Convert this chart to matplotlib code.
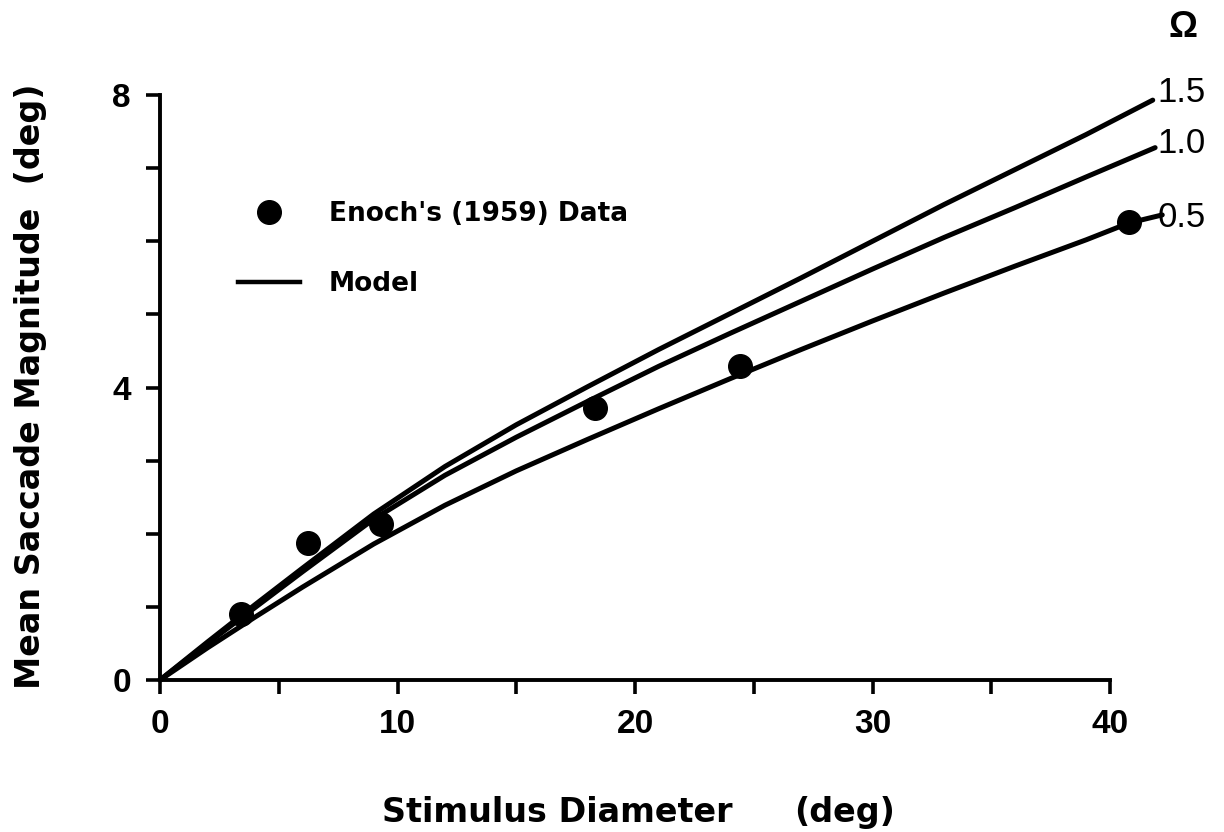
import matplotlib
matplotlib.use("Agg")
import matplotlib.pyplot as plt
from matplotlib.lines import Line2D

# Stimulus diameter (deg) vs. mean saccade magnitude (deg)
enoch_x = [3.4, 6.25, 9.3, 18.3, 24.4, 40.8]
enoch_y = [0.90, 1.87, 2.13, 3.72, 4.30, 6.26]

# Model curves for three values of Omega
model_x_15 = [0, 2, 4, 6, 9, 12, 15, 18, 21, 24, 27, 30, 33, 36, 39, 41.8]
model_y_15 = [0, 0.52, 1.03, 1.53, 2.27, 2.92, 3.49, 4.01, 4.52, 5.01, 5.50,
              6.00, 6.50, 6.98, 7.46, 7.93]

model_x_10 = [0, 2, 4, 6, 9, 12, 15, 18, 21, 24, 27, 30, 33, 36, 39, 41.9]
model_y_10 = [0, 0.50, 0.99, 1.48, 2.20, 2.80, 3.32, 3.81, 4.29, 4.74, 5.18,
              5.62, 6.05, 6.46, 6.88, 7.28]

model_x_05 = [0, 2, 4, 6, 9, 12, 15, 18, 21, 24, 27, 30, 33, 36, 39, 40.8, 42.2]
model_y_05 = [0, 0.44, 0.86, 1.27, 1.86, 2.39, 2.86, 3.29, 3.71, 4.12, 4.52,
              4.91, 5.29, 5.66, 6.02, 6.25, 6.36]

curve_labels = ["1.5", "1.0", "0.5"]
curve_label_y = [7.90, 7.21, 6.19]

x_major = [0, 10, 20, 30, 40]
x_minor = [5, 15, 25, 35]
y_major = [0, 4, 8]
y_minor = [1, 2, 3, 5, 6, 7]

W, H = 1224, 832
fig = plt.figure(figsize=(W / 100, H / 100), dpi=100)
ax = fig.add_axes([160 / W, 152 / H, 950 / W, 585 / H])
ax.set_xlim(0, 40)
ax.set_ylim(0, 8)

for side in ("top", "right"):
    ax.spines[side].set_visible(False)
for side in ("left", "bottom"):
    ax.spines[side].set_linewidth(2.8)
    ax.spines[side].set_capstyle("projecting")

ax.set_xticks(x_major)
ax.set_xticks(x_minor, minor=True)
ax.set_yticks(y_major)
ax.set_yticks(y_minor, minor=True)
ax.tick_params(which="both", direction="out", length=10, width=2.6, color="black")
ax.tick_params(which="major", pad=11, labelsize=24)
for lab in ax.get_xticklabels() + ax.get_yticklabels():
    lab.set_fontfamily("Liberation Sans")
    lab.set_fontweight("bold")

line_kw = dict(color="black", lw=3.6, solid_capstyle="round",
               solid_joinstyle="round", clip_on=False, zorder=3)
ax.plot(model_x_15, model_y_15, **line_kw)
ax.plot(model_x_10, model_y_10, **line_kw)
ax.plot(model_x_05, model_y_05, **line_kw)

ax.plot(enoch_x, enoch_y, "o", color="black", ms=17, clip_on=False, zorder=4)

# curve labels and the Omega heading
for lab, yy in zip(curve_labels, curve_label_y):
    ax.text(42.0, yy, lab, ha="left", va="baseline", fontsize=25,
            family="Liberation Sans", clip_on=False)
ax.text(43.07, 8.79, "Ω", ha="center", va="baseline", fontsize=26,
        family="Liberation Sans", fontweight="bold", clip_on=False)

# legend
handles = [
    Line2D([], [], marker="o", ls="none", color="black", ms=17),
    Line2D([], [], color="black", lw=3.2),
]
ax.legend(handles, ["Enoch's (1959) Data", "Model"],
          loc="upper left", bbox_to_anchor=(238 / W, 1 - 201 / H),
          bbox_transform=fig.transFigure, frameon=False,
          borderpad=0, borderaxespad=0, handlelength=2.35,
          handletextpad=1.1, labelspacing=1.68, numpoints=1,
          prop=dict(family="DejaVu Sans", weight="bold", size=19))

# axis titles
title_kw = dict(family="DejaVu Sans", weight="bold", fontsize=24)
fig.text(732 / W, 10 / H, "Stimulus Diameter", ha="right", va="baseline", **title_kw)
fig.text(794 / W, 10 / H, "(deg)", ha="left", va="baseline", **title_kw)
fig.text(31 / W, 1 - 386 / H, "Mean Saccade Magnitude  (deg)", rotation=90,
         ha="center", va="center", **title_kw)

fig.savefig("out.png", dpi=100)
